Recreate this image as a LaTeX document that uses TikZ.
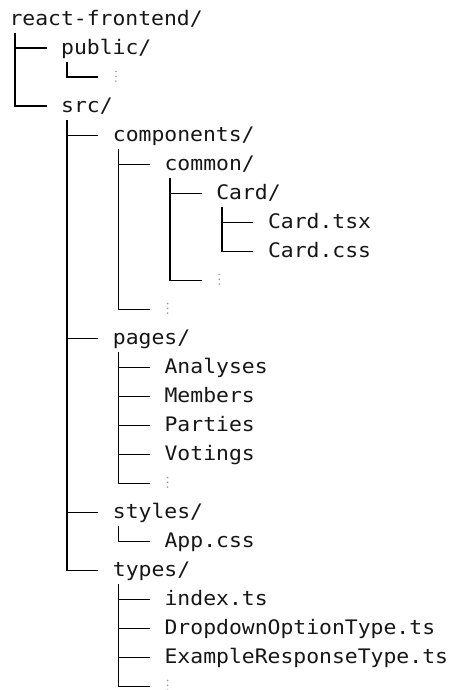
\documentclass[tikz,border=0pt]{standalone}
\usepackage{fontspec}
\newfontfamily\codefont[FakeStretch=1.07]{DejaVu Sans Mono}
\definecolor{txt}{HTML}{161616}
\definecolor{dotgray}{HTML}{9A9A9A}
\begin{document}
\begin{tikzpicture}[x=1pt,y=-1pt,
  entry/.style={anchor=west,inner sep=0pt,text height=13pt,text depth=0pt,
    font=\codefont\fontsize{20}{24}\selectfont,text=txt},
  more/.style={anchor=west,inner sep=0pt,minimum width=6pt,minimum height=16pt,
    path picture={\foreach \d in {-3.8,1,5.8}{\fill[dotgray] ([yshift=\d pt]path picture bounding box.center) circle (0.9pt);}}},
  branch/.style={draw=black,line width=1.6pt}]
\useasboundingbox (0,0) rectangle (448,690);
\node[entry] (root) at (9.3,19.3) {react-frontend/};
\node[entry] (public) at (61,48.3) {public/};
\node[more] (publicmore) at (112.7,77.3) {};
\node[entry] (src) at (61,106.3) {src/};
\node[entry] (components) at (112.7,135.3) {components/};
\node[entry] (common) at (164.4,164.3) {common/};
\node[entry] (card) at (216.1,193.3) {Card/};
\node[entry] (cardtsx) at (267.8,222.3) {Card.tsx};
\node[entry] (cardcss) at (267.8,251.3) {Card.css};
\node[more] (commonmore) at (216.1,280.3) {};
\node[more] (compmore) at (164.4,309.3) {};
\node[entry] (pages) at (112.7,338.3) {pages/};
\node[entry] (analyses) at (164.4,367.3) {Analyses};
\node[entry] (members) at (164.4,396.3) {Members};
\node[entry] (parties) at (164.4,425.3) {Parties};
\node[entry] (votings) at (164.4,454.3) {Votings};
\node[more] (pagesmore) at (164.4,483.3) {};
\node[entry] (styles) at (112.7,512.3) {styles/};
\node[entry] (appcss) at (164.4,541.3) {App.css};
\node[entry] (types) at (112.7,570.3) {types/};
\node[entry] (index) at (164.4,599.3) {index.ts};
\node[entry] (dropdown) at (164.4,628.3) {DropdownOptionType.ts};
\node[entry] (example) at (164.4,657.3) {ExampleResponseType.ts};
\node[more] (typesmore) at (164.4,686.3) {};
\foreach \p/\cs in {root/{public,src},public/{publicmore},src/{components,pages,styles,types},
  components/{common,compmore},common/{card,commonmore},card/{cardtsx,cardcss},
  pages/{analyses,members,parties,votings,pagesmore},styles/{appcss},
  types/{index,dropdown,example,typesmore}}{
  \foreach \c in \cs {
    \draw[branch] ([xshift=5.7pt,yshift=-14pt]\p.west) |- ([xshift=-14.5pt]\c.west);
  }
}
\end{tikzpicture}
\end{document}
